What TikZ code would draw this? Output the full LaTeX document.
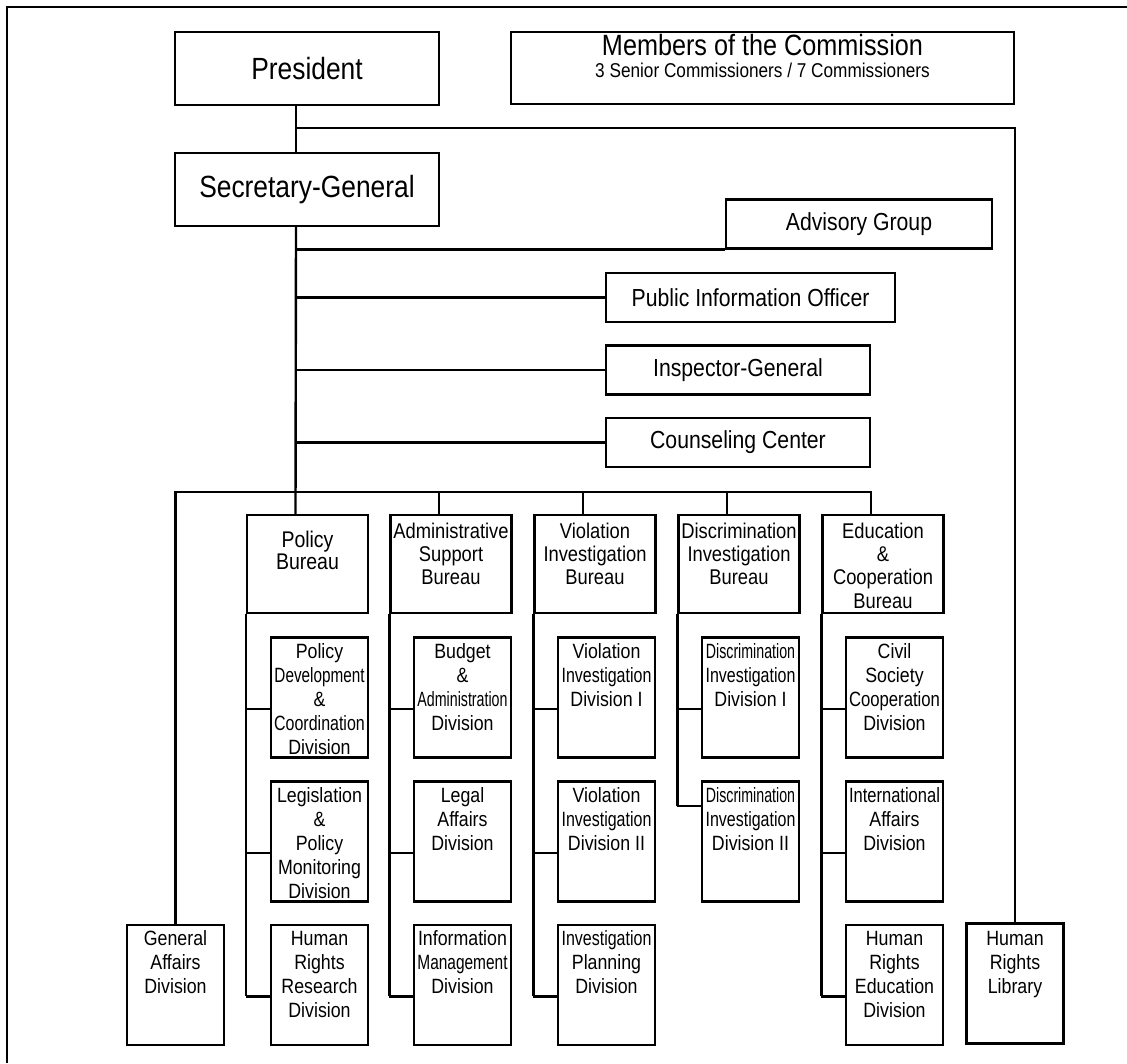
\documentclass[tikz,border=0pt]{standalone}
\usepackage{fontspec}
\setmainfont{Liberation Sans}[FakeStretch=0.86]
\usetikzlibrary{positioning}
\setlength{\lineskiplimit}{-20pt}
\newcommand{\narrow}[2][0.9]{\scalebox{#1}[1]{#2}}

\tikzset{every picture/.style={line width=1.8pt}}
\tikzset{
  topbox/.style={draw, minimum width=198pt, minimum height=54.75pt, inner sep=0pt, font=\fontsize{23}{27}\selectfont},
  staffbox/.style={draw, minimum width=#1, minimum height=36.5pt, inner sep=0pt, font=\fontsize{18.5}{22}\selectfont},
  bureaubox/.style={draw, minimum width=90.75pt, minimum height=73.5pt, inner sep=0pt},
  bureautext/.style={align=center, inner sep=0pt, font=\fontsize{16}{17.4}\selectfont},
  divbox/.style={draw, minimum width=72.75pt, minimum height=90pt, inner sep=0pt},
  divtext/.style={align=center, inner sep=0pt, font=\fontsize{15.5}{18}\selectfont},
}

\begin{document}
\begin{tikzpicture}[x=0.75pt,y=0.75pt,yscale=-1,xscale=1]
\useasboundingbox (0,0) rectangle (1127,1063);

%Frame
\draw (7,1063) -- (7,7) -- (1127,7);

%Shape: top row
\node[topbox] (pres) at (307,68.5) {President};
\node[draw, minimum width=377.25pt, minimum height=54pt, inner sep=0pt] (mem) at (762.5,68) {};
\node[topbox] (sg) at (307,189.5) {Secretary-General};

%Shape: staff offices
\node[staffbox=199.5pt] (adv) at (859,224) {Advisory Group};
\node[staffbox=216.75pt] (pio) at (750.5,297.5) {Public Information Officer};
\node[staffbox=198pt] (ig) at (738,370) {Inspector-General};
\node[staffbox=198pt] (cc) at (738,442.5) {Counseling Center};

%Shape: bureaus
\node[bureaubox] (pb) at (307.5,564) {};
\node[bureaubox] (asb) at (451,564) {};
\node[bureaubox] (vib) at (595,564) {};
\node[bureaubox] (dib) at (739,564) {};
\node[bureaubox] (edb) at (883,564) {};

%Shape: divisions
\node[divbox] (pdc) at (319.5,697.5) {};
\node[divbox] (lpm) at (319.5,841.5) {};
\node[divbox] (hrr) at (319.5,985) {};
\node[divbox] (bad) at (462.5,697.5) {};
\node[divbox] (lad) at (462.5,841.5) {};
\node[divbox] (imd) at (462.5,985) {};
\node[divbox] (vi1) at (606.5,697.5) {};
\node[divbox] (vi2) at (606.5,841.5) {};
\node[divbox] (ipd) at (606.5,985) {};
\node[divbox] (di1) at (750.5,697.5) {};
\node[divbox] (di2) at (750.5,841.5) {};
\node[divbox] (csc) at (894.5,697.5) {};
\node[divbox] (iad) at (894.5,841.5) {};
\node[divbox] (hre) at (894.5,985) {};
\node[divbox] (ga) at (175.5,985) {};
\node[divbox] (lib) at (1015,983.5) {};

% Text Node
\node[align=center, inner sep=0pt, font=\fontsize{15}{16.5}\selectfont, below=2pt of mem.north] (mem text) {{\fontsize{22}{16.5}\selectfont Members of the Commission}\\3 Senior Commissioners / 7 Commissioners};
% Text Node
\node[align=center, inner sep=0pt, font=\fontsize{17}{16.5}\selectfont, below=12pt of pb.north] (pb text) {Policy\\Bureau};
\node[bureautext, below=6pt of asb.north] (asb text) {Administrative\\Support\\Bureau};
\node[bureautext, below=6pt of vib.north] (vib text) {Violation\\Investigation\\Bureau};
\node[bureautext, below=6pt of dib.north] (dib text) {Discrimination\\Investigation\\Bureau};
\node[bureautext, below=6pt of edb.north] (edb text) {Education\\\&\\Cooperation\\Bureau};
% Text Node
\node[divtext, below=4.5pt of pdc.north] (pdc text) {Policy\\\narrow[0.86]{Development}\\\&\\\narrow{Coordination}\\Division};
\node[divtext, below=4.5pt of lpm.north] (lpm text) {Legislation\\\&\\Policy\\Monitoring\\Division};
\node[divtext, below=4.5pt of hrr.north] (hrr text) {Human\\Rights\\Research\\Division};
\node[divtext, below=4.5pt of bad.north] (bad text) {Budget\\\&\\\narrow[0.8]{Administration}\\Division};
\node[divtext, below=4.5pt of lad.north] (lad text) {Legal\\Affairs\\Division};
\node[divtext, below=4.5pt of imd.north] (imd text) {Information\\\narrow[0.87]{Management}\\Division};
\node[divtext, below=4.5pt of vi1.north] (vi1 text) {Violation\\\narrow{Investigation}\\Division I};
\node[divtext, below=4.5pt of vi2.north] (vi2 text) {Violation\\\narrow{Investigation}\\Division II};
\node[divtext, below=4.5pt of ipd.north] (ipd text) {\narrow{Investigation}\\Planning\\Division};
\node[divtext, below=4.5pt of di1.north] (di1 text) {\narrow[0.8]{Discrimination}\\\narrow{Investigation}\\Division I};
\node[divtext, below=4.5pt of di2.north] (di2 text) {\narrow[0.8]{Discrimination}\\\narrow{Investigation}\\Division II};
\node[divtext, below=4.5pt of csc.north] (csc text) {Civil\\Society\\\narrow[0.94]{Cooperation}\\Division};
\node[divtext, below=4.5pt of iad.north] (iad text) {\narrow[0.93]{International}\\Affairs\\Division};
\node[divtext, below=4.5pt of hre.north] (hre text) {Human\\Rights\\Education\\Division};
\node[divtext, below=4.5pt of ga.north] (ga text) {General\\Affairs\\Division};
\node[divtext, below=6pt of lib.north] (lib text) {Human\\Rights\\Library};

%Connectors
\coordinate (spine) at (296,128);
\coordinate (bus) at (296,492);
\coordinate (pb top) at ([xshift=-9pt]pb.north);
\coordinate (edb top) at ([xshift=-9pt]edb.north);
\draw (pres.south -| spine) -- (sg.north -| spine);
\draw (spine) -| (lib.north);
\draw (sg.south -| spine) -- (pb top);
\draw (adv.south west) -- (adv.south west -| spine);
\draw (pio.west) -- (pio.west -| spine);
\draw (ig.west) -- (ig.west -| spine);
\draw (cc.west) -- (cc.west -| spine);
\draw (ga.north) |- (edb top |- bus) -- (edb top);
\foreach \b in {asb,vib,dib}{
  \coordinate (drop) at ([xshift=-9pt]\b.north);
  \draw (drop) -- (drop |- bus);
}

\foreach \b/\d in {pb/pdc,pb/lpm,pb/hrr,asb/bad,asb/lad,asb/imd,vib/vi1,vib/vi2,vib/ipd,dib/di1,edb/csc,edb/iad,edb/hre}{
  \coordinate (br) at ([yshift=8.5pt]\d.west);
  \draw (br) -- (br -| \b.west);
}
\coordinate (di2 br) at ([yshift=-26.5pt]di2.west);
\draw (di2 br) -- (di2 br -| dib.west);
\foreach \b/\d in {pb/hrr,asb/imd,vib/ipd,edb/hre}{
  \coordinate (br) at ([yshift=8.5pt]\d.west);
  \draw (\b.south west) -- (br -| \b.west);
}
\draw (dib.south west) -- (di2 br -| dib.west);

\end{tikzpicture}
\end{document}
